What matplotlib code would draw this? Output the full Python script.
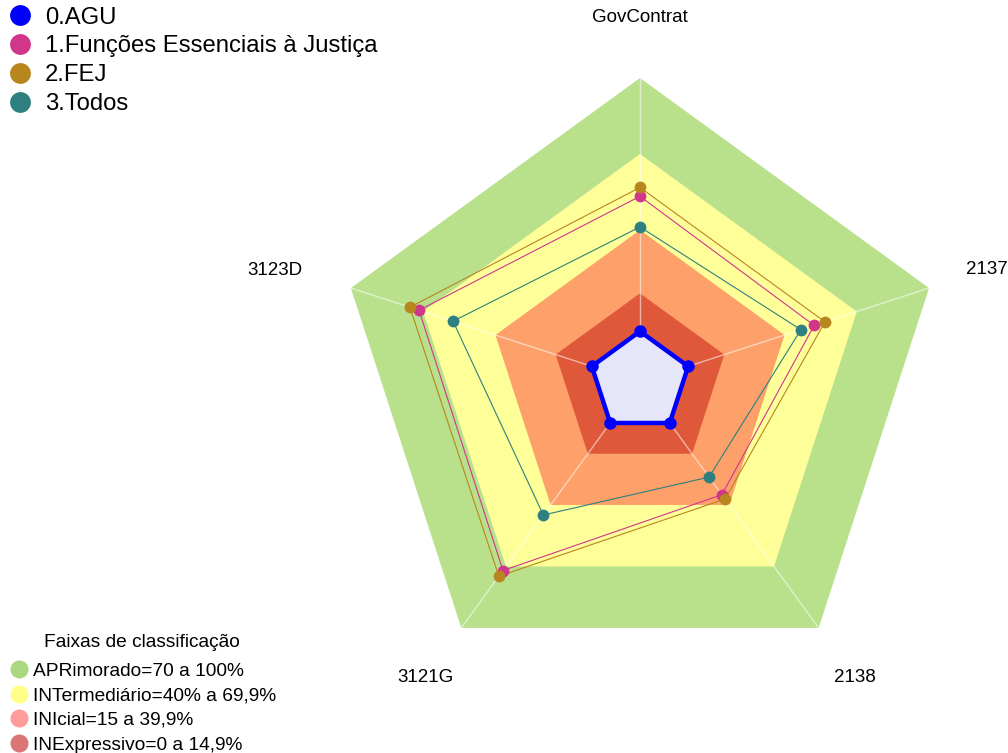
import numpy as np
import matplotlib
matplotlib.use("Agg")
import matplotlib.pyplot as plt
from matplotlib.lines import Line2D

plt.rcParams['font.family'] = ['Liberation Sans', 'DejaVu Sans']

# ---------------- data ----------------
categories = ['GovContrat', '2137', '2138', '3121G', '3123D']
series_names = ['0.AGU', '1.Funções Essenciais à Justiça', '2.FEJ', '3.Todos']
agu = [0, 0, 0, 0, 0]
funcoes = [53.3, 52.3, 35.0, 72.0, 71.7]
fej = [56.8, 56.8, 37.1, 74.8, 75.5]
todos = [41.2, 46.8, 26.4, 44.9, 57.6]

band_limits = [100, 70, 40, 15]
band_names = ['APRimorado=70 a 100%', 'INTermediário=40% a 69,9%',
              'INIcial=15 a 39,9%', 'INExpressivo=0 a 14,9%']

# ---------------- styles ----------------
series_colors = ['#0000FF', '#D0368A', '#B8861E', '#2E8080']
band_fill_colors = ['#B9E18C', '#FFFF99', '#FDA069', '#E0583A']
band_legend_colors = ['#A9D880', '#FFFF88', '#FF9C9C', '#DA7676']
label_offsets = [(0, 0), (0, 0), (0, 0), (0, 0), (-13, -1)]
rmin, rmax = -20, 100

fig = plt.figure(figsize=(10.08, 7.53), dpi=100)
ax = fig.add_axes([0.3333, 0.0890, 0.6032, 0.8074], projection='polar')
ax.set_theta_offset(np.pi / 2)
ax.set_theta_direction(-1)
ax.set_ylim(rmin, rmax)
ax.grid(False)
ax.set_xticks([])
ax.set_yticks([])
ax.spines['polar'].set_visible(False)
ax.patch.set_alpha(0)

n = len(categories)
angles = np.linspace(0, 2 * np.pi, n, endpoint=False)
ang_closed = np.concatenate([angles, angles[:1]])

def closed(vals):
    v = list(vals)
    return v + v[:1]

# bands
for lim, col in zip(band_limits, band_fill_colors):
    ax.fill(ang_closed, closed([lim] * n), color=col, lw=0, zorder=1)

# spokes
for a in angles:
    ax.plot([a, a], [rmin, rmax], color='white', alpha=0.55, lw=1.0, zorder=2)

# AGU fill
ax.fill(ang_closed, closed(agu), color='#E6E6FA', lw=0, zorder=3)

# series lines
all_series = [agu, funcoes, fej, todos]
for i, (vals, col) in enumerate(zip(all_series, series_colors)):
    if i == 0:
        continue
    ax.plot(ang_closed, closed(vals), color=col, lw=0.8, zorder=4)
    ax.plot(angles, vals, 'o', color=col, ms=8.5, zorder=5, mec='none')
ax.plot(ang_closed, closed(agu), color=series_colors[0], lw=3.2, zorder=6)
ax.plot(angles, agu, 'o', color=series_colors[0], ms=9, zorder=7, mec='none')

# category labels
for a, lab, off in zip(angles, categories, label_offsets):
    ax.annotate(lab, xy=(a, 124), xytext=off, textcoords='offset points',
                ha='center', va='center', fontsize=13.5, color='black',
                annotation_clip=False)

# series legend (top-left)
h1 = [Line2D([], [], marker='o', ls='none', color=c, ms=15, mec='none')
      for c in series_colors]
leg1 = fig.legend(h1, series_names, loc='upper left', bbox_to_anchor=(-0.006, 1.004),
                  frameon=False, fontsize=17.2, handletextpad=0.34,
                  labelspacing=0.29, handlelength=1.4, borderaxespad=0)

# band legend (bottom-left)
h2 = [Line2D([], [], marker='o', ls='none', color=c, ms=13, mec='none')
      for c in band_legend_colors]
leg2 = fig.legend(h2, band_names, loc='lower left', bbox_to_anchor=(0.0, -0.011),
                  frameon=False, fontsize=13.8, handletextpad=0.12,
                  labelspacing=0.38, handlelength=1.2, borderaxespad=0,
                  title='Faixas de classificação', title_fontsize=13.8)
leg2._legend_box.sep = 8

fig.savefig('out.png', dpi=100)
